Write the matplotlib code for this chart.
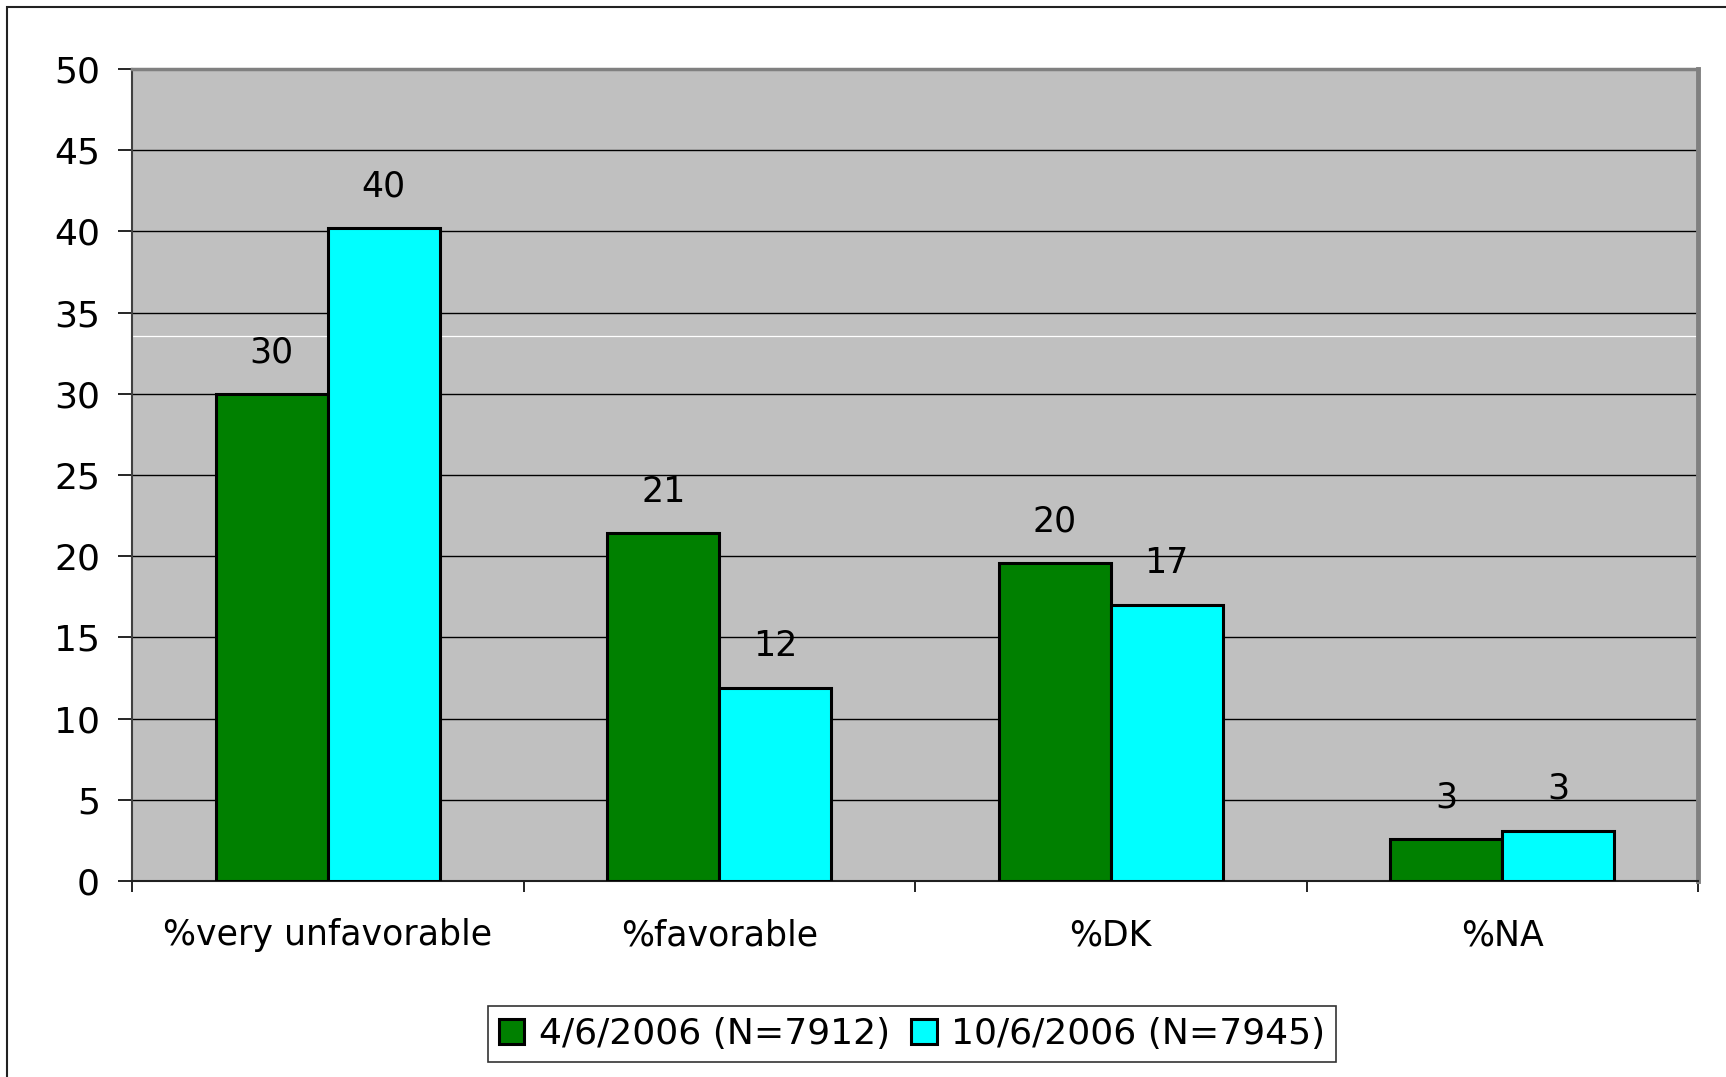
import matplotlib.pyplot as plt
import matplotlib.patches as mpatches
import numpy as np

# data
categories = ["%very unfavorable", "%favorable", "%DK", "%NA"]
series_names = ["4/6/2006 (N=7912)", "10/6/2006 (N=7945)"]
april_vals = [30.0, 21.4, 19.6, 2.6]
october_vals = [40.2, 11.9, 17.0, 3.1]
april_labels = ["30", "21", "20", "3"]
october_labels = ["40", "12", "17", "3"]

plt.rcParams['font.family'] = ['DejaVu Sans']

fig = plt.figure(figsize=(17.26, 10.77), dpi=100)
ax = fig.add_axes([132 / 1726, 1 - 881 / 1077, (1698 - 132) / 1726, (881 - 69) / 1077])
ax.set_facecolor('#C0C0C0')

x = np.arange(len(categories))
w = 1 / 3.5
b1 = ax.bar(x - w / 2, april_vals, w, color='#008000', edgecolor='black', linewidth=2.2,
            label=series_names[0], zorder=3)
b2 = ax.bar(x + w / 2, october_vals, w, color='#00FFFF', edgecolor='black', linewidth=2.2,
            label=series_names[1], zorder=3)

for bars, labs in [(b1, april_labels), (b2, october_labels)]:
    for r, t in zip(bars, labs):
        ax.annotate(t, (r.get_x() + r.get_width() / 2, r.get_height()),
                    xytext=(0, 30), textcoords='offset points',
                    ha='center', va='center', fontsize=25, zorder=4)

ax.set_xlim(-0.5, len(categories) - 0.5)
ax.set_ylim(0, 50)
ax.set_yticks(range(0, 51, 5))
ax.yaxis.grid(True, color='black', linewidth=1.0, zorder=1)
# stray white line seen in the original
ax.axhline(33.58, color='white', linewidth=0.9, zorder=1.5)

ax.set_xticks(x)
ax.set_xticklabels(categories)
ax.set_xticks(np.arange(-0.5, len(categories), 1), minor=True)
ax.tick_params(axis='x', which='major', length=0, pad=27, labelsize=25)
ax.tick_params(axis='x', which='minor', length=8, width=1.2, color='black')
ax.tick_params(axis='y', length=10, width=1.2, pad=13, labelsize=26)

ax.spines['left'].set_color('#404040')
ax.spines['left'].set_linewidth(1.5)
ax.spines['bottom'].set_color('#202020')
ax.spines['bottom'].set_linewidth(1.5)
ax.spines['top'].set_color('#808080')
ax.spines['top'].set_linewidth(2.5)
ax.spines['right'].set_color('#808080')
ax.spines['right'].set_linewidth(3.5)

# outer chart frame
fig.patches.append(mpatches.Rectangle((7 / 1726, -0.1), 1.2, 1 - 7 / 1077 + 0.1,
                                      transform=fig.transFigure, fill=False,
                                      edgecolor='#222222', linewidth=1.5))

leg = fig.legend(handles=[b1, b2], labels=series_names, loc='center',
                 bbox_to_anchor=(912 / 1726, 1 - 1034 / 1077), ncol=2,
                 fontsize=26, frameon=True, fancybox=False, shadow=False,
                 handlelength=0.7, handleheight=0.7, handletextpad=0.4,
                 columnspacing=0.6, borderpad=0.3, edgecolor='black')
leg.get_frame().set_linewidth(1.2)

fig.savefig('out.png', dpi=100)
